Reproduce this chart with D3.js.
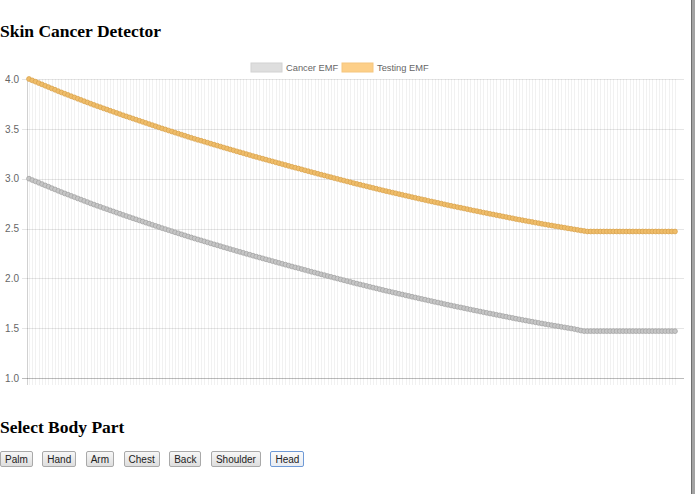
<!DOCTYPE html>
<html>
<head>
<meta charset="utf-8">
<script src="https://cdn.jsdelivr.net/npm/d3@7"></script>
<style>
  body { margin: 0; background: #fff; overflow: hidden; font-family: "Liberation Serif", "Times New Roman", serif; }
  h3 { position: absolute; left: 0; margin: 0; font-size: 17.5px; line-height: 1; font-weight: bold; color: #000; }
  #title { top: 23px; }
  #sub { top: 419px; }
  #chart { position: absolute; left: 0; top: 0; }
  #buttons { position: absolute; left: 0; top: 451px; display: flex; gap: 9.5px; }
  #buttons button {
    font-family: "Liberation Sans", Arial, sans-serif; font-size: 10px; color: #222;
    height: 16px; padding: 0 4px; margin: 0;
    border: 1px solid #a9a9a9; border-radius: 2px;
    background: linear-gradient(#f7f7f7, #dedede);
  }
  #buttons button.active { border-color: #6f9ad6; background: linear-gradient(#fbfbfb, #e8ecf2); }
  #edge { position: absolute; left: 691px; top: 0; width: 4px; height: 494px; background: #a3a3a3; border-left: 1px solid #6f6f6f; box-sizing: border-box; }
</style>
</head>
<body>
<h3 id="title">Skin Cancer Detector</h3>
<svg id="chart" width="695" height="400"></svg>
<h3 id="sub">Select Body Part</h3>
<div id="buttons"></div>
<div id="edge"></div>
<script>
// series, one value per plotted point
const testingEMF = [
  4.000, 3.986, 3.973, 3.959, 3.946, 3.932, 3.919, 3.905, 3.892, 3.878,
  3.865, 3.852, 3.840, 3.827, 3.815, 3.802, 3.790, 3.777, 3.765, 3.752,
  3.740, 3.728, 3.717, 3.705, 3.694, 3.682, 3.671, 3.659, 3.648, 3.636,
  3.625, 3.614, 3.603, 3.592, 3.581, 3.570, 3.559, 3.548, 3.537, 3.526,
  3.515, 3.504, 3.494, 3.483, 3.473, 3.462, 3.452, 3.441, 3.431, 3.420,
  3.410, 3.400, 3.390, 3.381, 3.371, 3.361, 3.351, 3.341, 3.332, 3.322,
  3.312, 3.303, 3.293, 3.284, 3.274, 3.265, 3.256, 3.246, 3.237, 3.227,
  3.218, 3.209, 3.200, 3.191, 3.182, 3.173, 3.164, 3.155, 3.146, 3.137,
  3.128, 3.119, 3.110, 3.102, 3.093, 3.084, 3.075, 3.066, 3.058, 3.049,
  3.040, 3.032, 3.023, 3.015, 3.006, 2.998, 2.989, 2.981, 2.972, 2.964,
  2.955, 2.947, 2.939, 2.931, 2.923, 2.915, 2.907, 2.899, 2.891, 2.883,
  2.875, 2.868, 2.860, 2.853, 2.845, 2.838, 2.830, 2.823, 2.815, 2.808,
  2.800, 2.793, 2.786, 2.778, 2.771, 2.764, 2.757, 2.750, 2.742, 2.735,
  2.728, 2.721, 2.714, 2.708, 2.701, 2.694, 2.687, 2.680, 2.674, 2.667,
  2.660, 2.654, 2.647, 2.641, 2.634, 2.628, 2.621, 2.615, 2.608, 2.602,
  2.595, 2.589, 2.583, 2.577, 2.571, 2.565, 2.559, 2.553, 2.547, 2.541,
  2.535, 2.530, 2.524, 2.519, 2.513, 2.508, 2.502, 2.497, 2.491, 2.486,
  2.480, 2.475, 2.470, 2.470, 2.470, 2.470, 2.470, 2.470, 2.470, 2.470,
  2.470, 2.470, 2.470, 2.470, 2.470, 2.470, 2.470, 2.470, 2.470, 2.470,
  2.470, 2.470, 2.470, 2.470, 2.470, 2.470, 2.470, 2.470, 2.470, 2.470
];
const cancerEMF = [
  3.000, 2.986, 2.973, 2.959, 2.946, 2.932, 2.919, 2.905, 2.892, 2.878,
  2.865, 2.852, 2.840, 2.827, 2.815, 2.802, 2.790, 2.777, 2.765, 2.752,
  2.740, 2.728, 2.717, 2.705, 2.694, 2.682, 2.671, 2.659, 2.648, 2.636,
  2.625, 2.614, 2.603, 2.592, 2.581, 2.570, 2.559, 2.548, 2.537, 2.526,
  2.515, 2.504, 2.494, 2.483, 2.473, 2.462, 2.452, 2.441, 2.431, 2.420,
  2.410, 2.400, 2.390, 2.381, 2.371, 2.361, 2.351, 2.341, 2.332, 2.322,
  2.312, 2.303, 2.293, 2.284, 2.274, 2.265, 2.256, 2.246, 2.237, 2.227,
  2.218, 2.209, 2.200, 2.191, 2.182, 2.173, 2.164, 2.155, 2.146, 2.137,
  2.128, 2.119, 2.110, 2.102, 2.093, 2.084, 2.075, 2.066, 2.058, 2.049,
  2.040, 2.032, 2.023, 2.015, 2.006, 1.998, 1.989, 1.981, 1.972, 1.964,
  1.955, 1.947, 1.939, 1.931, 1.923, 1.915, 1.907, 1.899, 1.891, 1.883,
  1.875, 1.868, 1.860, 1.853, 1.845, 1.838, 1.830, 1.823, 1.815, 1.808,
  1.800, 1.793, 1.786, 1.778, 1.771, 1.764, 1.757, 1.750, 1.742, 1.735,
  1.728, 1.721, 1.714, 1.708, 1.701, 1.694, 1.687, 1.680, 1.674, 1.667,
  1.660, 1.654, 1.647, 1.641, 1.634, 1.628, 1.621, 1.615, 1.608, 1.602,
  1.595, 1.589, 1.583, 1.577, 1.571, 1.565, 1.559, 1.553, 1.547, 1.541,
  1.535, 1.530, 1.524, 1.519, 1.513, 1.508, 1.502, 1.497, 1.491, 1.484,
  1.476, 1.470, 1.470, 1.470, 1.470, 1.470, 1.470, 1.470, 1.470, 1.470,
  1.470, 1.470, 1.470, 1.470, 1.470, 1.470, 1.470, 1.470, 1.470, 1.470,
  1.470, 1.470, 1.470, 1.470, 1.470, 1.470, 1.470, 1.470, 1.470, 1.470
];
const seriesNames = ["Cancer EMF", "Testing EMF"];
const yTicks = [1.0, 1.5, 2.0, 2.5, 3.0, 3.5, 4.0];
const bodyParts = ["Palm", "Hand", "Arm", "Chest", "Back", "Shoulder", "Head"];

const colors = {
  "Cancer EMF": { legend: "#dedede", fill: "#c6c6c6", stroke: "#a4a4a4" },
  "Testing EMF": { legend: "#fdcf88", fill: "#efbd6a", stroke: "#dba44f" }
};

const svg = d3.select("#chart");
const plotTop = 79, plotBottom = 378, plotLeft = 27, plotRight = 684;

// x positions: one category per point (labels are blank in the original)
const pointIndex = testingEMF.map((d, i) => i);
const x = d3.scalePoint().domain(pointIndex).range([29, 675]);
const y = d3.scaleLinear().domain([1, 4]).range([plotBottom, plotTop]);

// vertical grid lines, one per point
svg.append("g")
  .selectAll("line")
  .data(pointIndex)
  .enter()
  .append("line")
  .attr("x1", d => Math.round(x(d)) + 0.5)
  .attr("x2", d => Math.round(x(d)) + 0.5)
  .attr("y1", plotTop)
  .attr("y2", plotBottom + 7)
  .attr("stroke", "rgba(0,0,0,0.055)")
  .attr("shape-rendering", "crispEdges");

// horizontal grid lines + y axis labels
const yAxis = d3.axisLeft(y)
  .tickValues(yTicks)
  .tickFormat(d3.format(".1f"))
  .tickSize(-(plotRight - plotLeft))
  .tickPadding(8);

const gy = svg.append("g")
  .attr("transform", `translate(${plotLeft},0)`)
  .call(yAxis);
gy.select(".domain").remove();
gy.selectAll(".tick line")
  .attr("x1", -5)
  .attr("stroke", "rgba(0,0,0,0.1)")
  .attr("shape-rendering", "crispEdges");
gy.selectAll(".tick text")
  .attr("fill", "#666")
  .attr("font-family", "Liberation Sans, Arial, sans-serif")
  .attr("font-size", "10px");

// axis lines
svg.append("line")
  .attr("x1", plotLeft + 0.5).attr("x2", plotLeft + 0.5)
  .attr("y1", plotTop).attr("y2", plotBottom + 7)
  .attr("stroke", "rgba(0,0,0,0.18)");
svg.append("line")
  .attr("x1", plotLeft - 5).attr("x2", plotRight)
  .attr("y1", y(1) + 0.5).attr("y2", y(1) + 0.5)
  .attr("stroke", "rgba(0,0,0,0.18)");

// lines with dense points
const series = [
  { name: "Cancer EMF", values: cancerEMF },
  { name: "Testing EMF", values: testingEMF }
];

const line = d3.line()
  .x((d, i) => x(i))
  .y(d => y(d));

series.forEach(s => {
  const c = colors[s.name];
  svg.append("path")
    .datum(s.values)
    .attr("d", line)
    .attr("fill", "none")
    .attr("stroke", c.stroke)
    .attr("stroke-width", 2.5);

  svg.append("g")
    .selectAll("circle")
    .data(s.values)
    .enter()
    .append("circle")
    .attr("cx", (d, i) => x(i))
    .attr("cy", d => y(d))
    .attr("r", 2.4)
    .attr("fill", c.fill)
    .attr("stroke", c.stroke)
    .attr("stroke-width", 0.8);
});

// legend
const legendX = [251, 342];
const legend = svg.append("g")
  .selectAll("g")
  .data(seriesNames)
  .enter()
  .append("g")
  .attr("transform", (d, i) => `translate(${legendX[i]},63)`);

legend.append("rect")
  .attr("width", 31)
  .attr("height", 9)
  .attr("fill", d => colors[d].legend)
  .attr("stroke", d => d === "Cancer EMF" ? "#d2d2d2" : "#f5c67e")
  .attr("stroke-width", 1);

legend.append("text")
  .attr("x", 35)
  .attr("y", 8)
  .attr("fill", "#666")
  .attr("font-family", "Liberation Sans, Arial, sans-serif")
  .attr("font-size", "9.3px")
  .text(d => d);

// body part buttons
d3.select("#buttons")
  .selectAll("button")
  .data(bodyParts)
  .enter()
  .append("button")
  .classed("active", d => d === "Head")
  .text(d => d);
</script>
</body>
</html>
